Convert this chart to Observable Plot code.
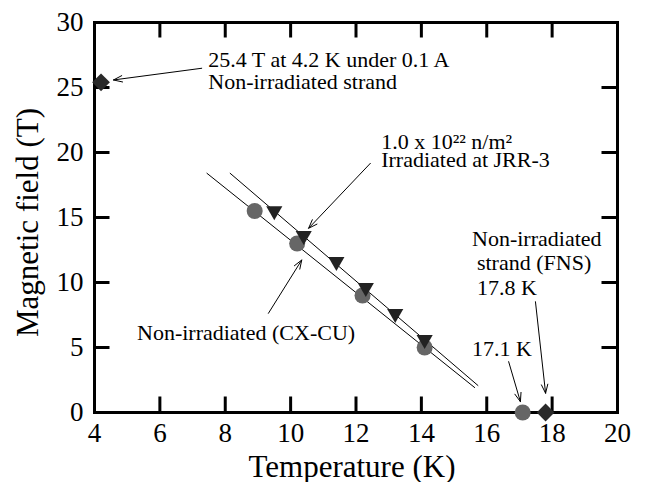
<!DOCTYPE html>
<html><head><meta charset="utf-8">
<script src="https://cdn.jsdelivr.net/npm/d3@7"></script>
<script src="https://cdn.jsdelivr.net/npm/@observablehq/plot@0.6"></script>
<style>body{margin:0;background:#fff} svg text{font-family:'Liberation Serif','Times New Roman',serif}</style>
</head><body><div id="chart"></div>
<script>
const xTicks = [4, 6, 8, 10, 12, 14, 16, 18, 20];
const yTicks = [0, 5, 10, 15, 20, 25, 30];

// Non-irradiated (CX-CU): grey circles
const circleT = [8.9, 10.2, 12.2, 14.1, 17.1];
const circleB = [15.5, 13.0, 9.0, 5.0, 0];
// Irradiated at JRR-3: black down triangles
const triT = [9.5, 10.4, 11.4, 12.3, 13.2, 14.1];
const triB = [15.5, 13.6, 11.6, 9.6, 7.6, 5.6];
// Non-irradiated strand (FNS): diamonds
const diaT = [4.2, 17.8];
const diaB = [25.4, 0];
// fitted straight lines (end points)
const lineCxT = [7.44, 15.63];
const lineCxB = [18.4, 1.92];
const lineIrT = [8.15, 15.73];
const lineIrB = [18.4, 2.08];

// annotations
const noteText = ["25.4 T at 4.2 K under 0.1 A", "Non-irradiated strand", "1.0 x 10\u00b2\u00b2 n/m\u00b2", "Irradiated at JRR-3",
  "Non-irradiated (CX-CU)", "Non-irradiated", "strand (FNS)", "17.8 K", "17.1 K"];
const noteT = [7.48, 7.48, 12.77, 12.77, 5.30, 15.55, 15.70, 15.70, 15.55];
const noteB = [27.12, 25.42, 20.83, 19.42, 6.12, 13.35, 11.48, 9.55, 4.88];

const arrowFromT = [7.28, 12.44, 9.32, 17.49, 16.67];
const arrowFromB = [26.48, 19.17, 7.63, 8.52, 3.91];
const arrowToT = [4.58, 10.55, 10.34, 17.80, 17.03];
const arrowToB = [25.58, 14.17, 11.73, 1.48, 0.83];

const xTitle = "Temperature (K)";
const yTitle = "Magnetic field (T)";

const toRows = (xs, ys) => xs.map((x, i) => ({x, y: ys[i]}));
const circles = toRows(circleT, circleB);
const tris = toRows(triT, triB);
const dias = toRows(diaT, diaB);
const lineCx = toRows(lineCxT, lineCxB);
const lineIr = toRows(lineIrT, lineIrB);
const notes = noteText.map((t, i) => ({t, x: noteT[i], y: noteB[i]}));
const arrows = arrowFromT.map((x1, i) => ({x1, y1: arrowFromB[i], x2: arrowToT[i], y2: arrowToB[i]}));

const W = 646, H = 482, mL = 94, mR = 29, mT = 22, mB = 70;
const innerW = W - mL - mR, innerH = H - mT - mB;
const tickLen = 15.5;
const font = "'Liberation Serif', 'Times New Roman', serif";

const chart = Plot.plot({
  width: W, height: H,
  marginLeft: mL, marginRight: mR, marginTop: mT, marginBottom: mB,
  x: {domain: [4, 20]},
  y: {domain: [0, 30]},
  style: {fontFamily: font, background: "#fff", color: "#000"},
  marks: [
    Plot.axisX(xTicks, {tickSize: 0, tickPadding: 10, fontSize: 27, label: null, fontFamily: font}),
    Plot.axisY(yTicks, {tickSize: 0, tickPadding: 11, fontSize: 27, label: null, fontFamily: font}),
    Plot.tickX(xTicks, {x: d => d, insetTop: innerH - tickLen, stroke: "#000", strokeWidth: 3}),
    Plot.tickX(xTicks, {x: d => d, insetBottom: innerH - tickLen, stroke: "#000", strokeWidth: 3}),
    Plot.tickY(yTicks, {y: d => d, insetRight: innerW - tickLen, stroke: "#000", strokeWidth: 3}),
    Plot.tickY(yTicks, {y: d => d, insetLeft: innerW - tickLen, stroke: "#000", strokeWidth: 3}),
    Plot.frame({stroke: "#000", strokeWidth: 3}),
    Plot.line(lineCx, {x: "x", y: "y", stroke: "#000", strokeWidth: 1}),
    Plot.line(lineIr, {x: "x", y: "y", stroke: "#000", strokeWidth: 1}),
    Plot.dot(circles, {x: "x", y: "y", r: 8, fill: "#666", stroke: null}),
    Plot.dot(tris, {x: "x", y: "y", r: 6, symbol: "triangle", rotate: 180, fill: "#222", stroke: null}),
    Plot.dot(dias, {x: "x", y: "y", r: 8, symbol: "diamond2", fill: "#2a2a2a", stroke: null}),
    Plot.arrow(arrows, {x1: "x1", y1: "y1", x2: "x2", y2: "y2", stroke: "#000", strokeWidth: 1, headLength: 14, headAngle: 40}),
    Plot.text(notes, {x: "x", y: "y", text: "t", textAnchor: "start", lineAnchor: "middle", fontSize: 22, fill: "#000", fontFamily: font}),
    Plot.text([xTitle], {text: d => d, frameAnchor: "bottom", textAnchor: "middle", lineAnchor: "bottom", dy: 64, dx: -4, fontSize: 31, fill: "#000", fontFamily: font}),
    Plot.text([yTitle], {text: d => d, frameAnchor: "left", textAnchor: "middle", rotate: -90, lineAnchor: "bottom", dx: -57, dy: 5, fontSize: 31, fill: "#000", fontFamily: font})
  ]
});
document.getElementById("chart").appendChild(chart);
</script>
</body></html>
